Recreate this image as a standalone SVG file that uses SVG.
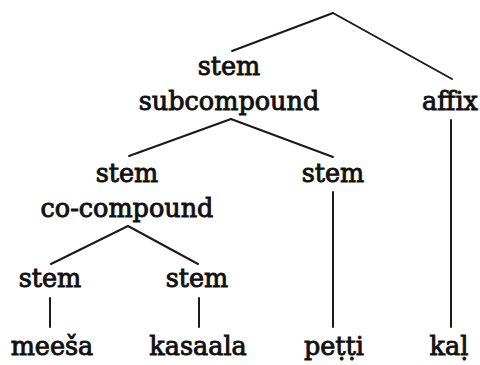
<svg xmlns="http://www.w3.org/2000/svg" width="480" height="365" viewBox="0 0 480 365">
  <style>
    text { font-family: "DejaVu Serif", "Liberation Serif", serif; font-size: 25.5px; fill: #111; stroke: #111; stroke-width: 0.9; text-anchor: middle; }
    .edge { stroke: #1a1a1a; stroke-width: 2; fill: none; stroke-linecap: round; }
  </style>
  <rect width="480" height="365" fill="#fff"/>

  <g id="connectors">
    <line class="edge" x1="333" y1="13" x2="232" y2="51"/>
    <line class="edge" x1="333" y1="13" x2="452" y2="79"/>
    <line class="edge" x1="231" y1="119" x2="129" y2="156"/>
    <line class="edge" x1="231" y1="119" x2="333" y2="157"/>
    <line class="edge" x1="128" y1="226" x2="51" y2="264"/>
    <line class="edge" x1="128" y1="226" x2="198" y2="264"/>
    <line class="edge" x1="333" y1="192" x2="333" y2="327"/>
    <line class="edge" x1="451" y1="120" x2="451" y2="327"/>
    <line class="edge" x1="50" y1="298" x2="50" y2="327"/>
    <line class="edge" x1="199" y1="298" x2="199" y2="327"/>
  </g>

  <g id="stem-subcompound">
    <text x="229" y="75">stem</text>
    <text x="229" y="110">subcompound</text>
  </g>
  <g id="affix">
    <text x="450" y="110">affix</text>
  </g>
  <g id="stem-co-compound">
    <text x="127" y="182">stem</text>
    <text x="127" y="217">co-compound</text>
  </g>
  <g id="stem-petti">
    <text x="333" y="182">stem</text>
  </g>
  <g id="stem-meesa">
    <text x="50" y="287">stem</text>
  </g>
  <g id="stem-kasaala">
    <text x="197" y="287">stem</text>
  </g>
  <g id="meesa">
    <text x="52" y="355">meeša</text>
  </g>
  <g id="kasaala">
    <text x="198" y="355">kasaala</text>
  </g>
  <g id="petti">
    <text x="334" y="355">peṭṭi</text>
  </g>
  <g id="kal">
    <text x="449" y="355">kaḷ</text>
  </g>
</svg>
